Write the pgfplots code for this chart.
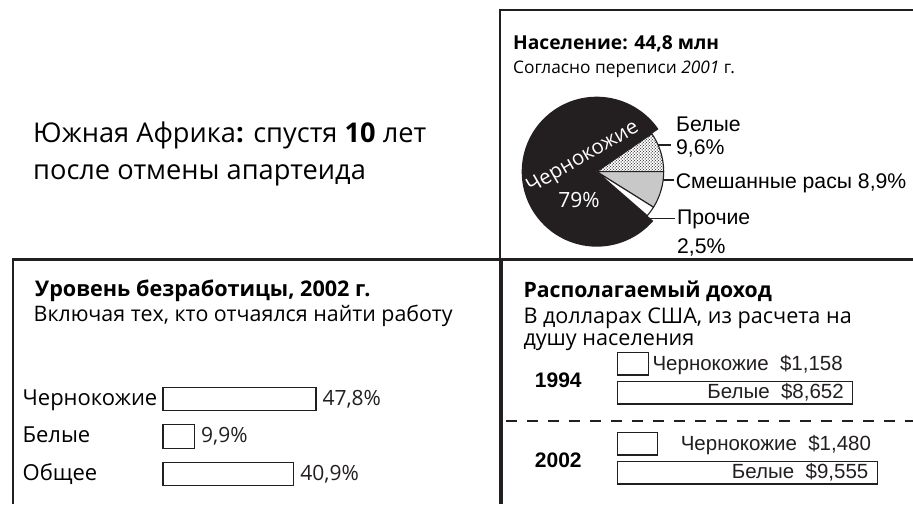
\documentclass[border=0pt]{standalone}
\usepackage{fontspec}
\setmainfont{Open Sans}
\newfontfamily\arial{Liberation Sans}
\usepackage{pgfplots}
\pgfplotsset{compat=1.18}
\usetikzlibrary{patterns}
\definecolor{ink}{HTML}{231F20}
\definecolor{mixgrey}{HTML}{C8C8C8}
\begin{document}
\begin{tikzpicture}[x=1pt,y=1pt]
\path[use as bounding box] (0,0) rectangle (913,504);
% frames
\draw[ink, line width=2.6pt] (498.9,494) -- (913,494);
\draw[ink, line width=2.2pt] (500,495.3) -- (500,244.5);
\draw[ink, line width=2.2pt] (11.9,244.5) -- (913,244.5);
\draw[ink, line width=2.4pt] (13,245.6) -- (13,0);
\draw[ink, line width=4pt] (501,245) -- (501,0);
\draw[ink, line width=2pt, dash pattern=on 11pt off 10pt] (506,83) -- (913,83);
% main heading
\node[anchor=base west, inner sep=0pt, font=\fontsize{27.2}{30}\selectfont] at (33,361) {Южная Африка\textbf{:} спустя \textbf{10} лет};
\node[anchor=base west, inner sep=0pt, font=\fontsize{27.2}{30}\selectfont] at (33,324) {после отмены апартеида};
% pie titles
\node[anchor=base west, inner sep=0pt, font=\bfseries\fontsize{19.2}{24}\selectfont] at (513,454) {Население: 44,8 млн};
\node[anchor=base west, inner sep=0pt, font=\fontsize{17.3}{24}\selectfont] at (513,430.7) {Согласно переписи \textit{2001} г.};
% pie labels
\begin{scope}[font=\arial\fontsize{21.2}{24}\selectfont]
\node[anchor=base west, inner sep=0pt] at (676,372.3) {Белые};
\node[anchor=base west, inner sep=0pt] at (676,349) {9,6\%};
\node[anchor=base west, inner sep=0pt] at (675.7,315.7) {Смешанные расы 8,9\%};
\node[anchor=base west, inner sep=0pt] at (677,279) {Прочие};
\node[anchor=base west, inner sep=0pt] at (677,250.7) {2,5\%};
\end{scope}
\draw[ink, line width=1.4pt] (658.3,359) -- (671,359);
\draw[ink, line width=1.4pt] (663.3,324) -- (673.5,324);
\draw[ink, line width=1.4pt] (646.7,285.7) -- (675,285.7);
% bottom-left titles
\node[anchor=base west, inner sep=0pt, font=\bfseries\fontsize{21.6}{24}\selectfont] at (35,207.3) {Уровень безработицы, 2002 г.};
\node[anchor=base west, inner sep=0pt, font=\fontsize{21.4}{24}\selectfont] at (33.5,182.3) {Включая тех, кто отчаялся найти работу};
% bottom-right titles
\node[anchor=base west, inner sep=0pt, font=\bfseries\fontsize{21.2}{24}\selectfont] at (523.3,206.3) {Располагаемый доход};
\node[anchor=base west, inner sep=0pt, font=\fontsize{21.6}{24}\selectfont] at (523.3,180.7) {В долларах США, из расчета на};
\node[anchor=base west, inner sep=0pt, font=\fontsize{21.6}{24}\selectfont] at (523.3,158.3) {душу населения};

% pie angles from shares (%)
\def\shW{9.6}\def\shM{8.9}\def\shO{2.5}\def\shB{79}
\pgfmathsetmacro\aW{3.6*\shW}
\pgfmathsetmacro\aM{-3.6*\shM}
\pgfmathsetmacro\aO{-3.6*(\shM+\shO)}
\pgfmathsetmacro\aBend{360+\aO}
\begin{axis}[at={(596.7pt,332.3pt)}, anchor=center, scale only axis,
  width=150pt, height=150pt, xmin=-1, xmax=1, ymin=-1, ymax=1,
  hide axis, clip=false]
\addplot[draw=none] coordinates {(0,0)};
\fill[ink] (axis cs:0,0) -- (axis cs:{cos(\aW)},{sin(\aW)}) arc[start angle=\aW, end angle=\aBend, radius=75pt] -- cycle;
\fill[white] (axis cs:0,0) -- (axis cs:0.893,0) arc[start angle=0, end angle=\aW, radius=67pt] -- cycle;
\fill[pattern=crosshatch dots, pattern color=ink] (axis cs:0,0) -- (axis cs:0.893,0) arc[start angle=0, end angle=\aW, radius=67pt] -- cycle;
\fill[pattern=dots, pattern color=ink] (axis cs:0,0) -- (axis cs:0.893,0) arc[start angle=0, end angle=\aW, radius=67pt] -- cycle;
\draw[ink, line width=1.1pt] (axis cs:0,0) -- (axis cs:0.893,0) arc[start angle=0, end angle=\aW, radius=67pt] -- cycle;
\filldraw[fill=mixgrey, draw=ink, line width=1.1pt] (axis cs:0,0) -- (axis cs:{0.893*cos(\aM)},{0.893*sin(\aM)}) arc[start angle=\aM, end angle=0, radius=67pt] -- cycle;
\filldraw[fill=white, draw=ink, line width=1.1pt] (axis cs:0,0) -- (axis cs:{0.893*cos(\aO)},{0.893*sin(\aO)}) arc[start angle=\aO, end angle=\aM, radius=67pt] -- cycle;
\node[white, rotate=30, font=\fontsize{20.5}{24}\selectfont, inner sep=0pt] at (axis cs:-0.183,0.183) {Чернокожие};
\node[white, anchor=base, font=\fontsize{21}{24}\selectfont, inner sep=0pt] at (axis cs:-0.236,-0.484) {79\%};
\end{axis}

% unemployment bars
\begin{axis}[at={(163pt,124pt)}, anchor=north west, scale only axis,
  width=320pt, height=112.8pt,
  xmin=0, xmax=100, ymin=-0.5, ymax=2.5, y dir=reverse,
  axis line style={draw=none}, tick style={draw=none},
  xtick=\empty, ytick={0,1,2},
  yticklabels={Чернокожие,Белые,Общее},
  yticklabel style={anchor=base west, inner sep=0pt, xshift=-136.3pt, yshift=-6.2pt, font=\fontsize{22}{24}\selectfont},
  xbar, bar width=23.5pt, clip=false, point meta=x,
  nodes near coords={\pgfmathprintnumber[fixed,fixed zerofill,precision=1,use comma,assume math mode=true]{\pgfplotspointmeta}\%},
  every node near coord/.append style={anchor=base west, inner sep=0pt, xshift=6pt, yshift=-6.2pt, font=\fontsize{21}{24}\selectfont, text=ink}]
\addplot[draw=ink, fill=white, line width=1.1pt] coordinates {(47.8,0) (9.9,1) (40.9,2)};
\end{axis}

% income bars
\begin{axis}[at={(617.3pt,165.8pt)}, anchor=north west, scale only axis,
  width=272pt, height=160pt,
  xmin=0, xmax=10000, ymin=-0.5, ymax=1.5, y dir=reverse,
  axis line style={draw=none}, tick style={draw=none}, xtick=\empty,
  ytick={0,1}, yticklabels={1994,2002},
  yticklabel style={anchor=base west, inner sep=0pt, xshift=-78.3pt, yshift=-9.3pt, font=\arial\bfseries\fontsize{21}{24}\selectfont},
  xbar, bar width=22.5pt, clip=false,
  point meta=explicit symbolic, nodes near coords={\pgfplotspointmeta}]
\addplot[draw=ink, fill=white, line width=1.1pt, bar shift=14.5pt,
  every node near coord/.append style={anchor=base west, inner sep=0pt, xshift=3.2pt, yshift=-7pt, font=\arial\fontsize{20.5}{24}\selectfont, text=ink}]
  coordinates {(1158,0) [Чернокожие\ \ \$1,158] (1480,1) [\hspace*{19.5pt}Чернокожие\ \ \$1,480]};
\addplot[draw=ink, fill=white, line width=1.1pt, bar shift=-14.5pt,
  every node near coord/.append style={anchor=base east, inner sep=0pt, xshift=-8.3pt, yshift=-6.2pt, font=\arial\fontsize{20.5}{24}\selectfont, text=ink}]
  coordinates {(8652,0) [Белые\ \ \$8,652] (9555,1) [Белые\ \ \$9,555]};
\end{axis}
\end{tikzpicture}
\end{document}
